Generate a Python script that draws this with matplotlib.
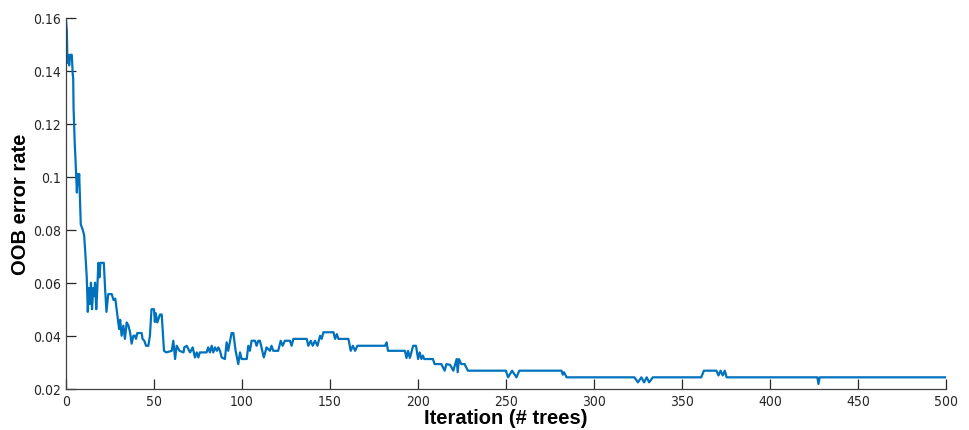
import numpy as np
import matplotlib
matplotlib.use('Agg')
import matplotlib.pyplot as plt

# OOB error vs number of trees (vertices)
iters = [0, 0.5, 0.8, 1.3, 1.8, 2.4, 3.3, 3.8, 4.1, 4.3, 5.0, 5.3, 5.8, 6.2, 6.6, 7.0, 7.5,
         8.0, 8.4, 9.5, 10.3, 11.0, 11.8, 12.4, 13.0, 13.6, 14.2, 14.8, 15.5, 16.0, 16.5,
         17.2, 17.8, 18.4, 19.0, 19.6, 21.5, 22.2, 23.0, 24.0, 26.0, 27.0, 28.0, 29.5,
         30.2, 30.8, 31.6, 32.6, 33.5, 34.5, 35.5, 36.4, 37.3, 38.3, 39.2, 39.8, 40.5,
         43.0, 43.5, 44.5, 45.5, 46.8, 47.7, 48.6, 50.0, 50.5, 51.0, 51.9, 53.4, 54.4,
         55.7, 57.0, 60.1, 61.0, 62.0, 62.9, 64.5, 66.8, 67.2, 68.6, 70.5, 72.0, 73.3,
         74.3, 75.2, 76.1, 79.9, 80.8, 81.8, 82.8, 83.7, 84.7, 85.7, 86.6, 87.5, 88.5,
         90.3, 91.3, 92.2, 94.1, 95.1, 96.4, 97.9, 98.9, 99.8, 102.7, 103.6, 104.5,
         105.5, 107.4, 108.3, 109.3, 110.2, 111.1, 112.4, 114.0, 115.9, 116.8, 117.8,
         120.6, 122.0, 123.1, 124.4, 127.3, 128.2, 129.2, 136.8, 137.7, 139.1, 140.2,
         141.5, 142.9, 144.4, 145.3, 146.3, 152.0, 152.9, 153.9, 154.8, 160.5, 161.8,
         163.0, 164.3, 165.6, 181.3, 182.2, 183.0, 192.6, 193.5, 194.4, 195.4, 197.3,
         198.9, 200.1, 201.0, 202.0, 202.8, 203.6, 208.5, 209.5, 213.3, 215.2, 216.2,
         218.3, 220.1, 222.0, 222.6, 223.3, 224.6, 226.5, 228.4, 250.0, 251.2, 253.5,
         256.0, 257.6, 281.6, 282.3, 283.0, 284.5, 323.0, 325.0, 327.0, 328.5, 330.0,
         331.4, 333.5, 361.0, 362.5, 369.6, 370.8, 372.0, 373.2, 374.4, 375.4, 427.0,
         427.6, 428.3, 500]
oob_err = [0.159, 0.155, 0.143, 0.146, 0.142, 0.146, 0.146, 0.139, 0.137, 0.126, 0.112,
           0.108, 0.100, 0.094, 0.101, 0.097, 0.101, 0.090, 0.082, 0.080, 0.078, 0.071,
           0.062, 0.049, 0.058, 0.052, 0.060, 0.050, 0.058, 0.055, 0.060, 0.050, 0.058,
           0.0675, 0.062, 0.0675, 0.0675, 0.058, 0.049, 0.0557, 0.0557, 0.0535, 0.054,
           0.046, 0.0425, 0.046, 0.040, 0.0438, 0.0388, 0.045, 0.0438, 0.0413, 0.037,
           0.040, 0.040, 0.0388, 0.041, 0.041, 0.0388, 0.0381, 0.0362, 0.0362, 0.040,
           0.050, 0.050, 0.0452, 0.0485, 0.045, 0.048, 0.048, 0.0343, 0.0337, 0.0343,
           0.0381, 0.0312, 0.0362, 0.0343, 0.0337, 0.0356, 0.0362, 0.0337, 0.0356, 0.0318,
           0.0337, 0.0318, 0.0337, 0.0337, 0.0356, 0.0337, 0.0362, 0.0337, 0.0356, 0.0343,
           0.0356, 0.0343, 0.0318, 0.0312, 0.0375, 0.0343, 0.041, 0.041, 0.0343, 0.0293,
           0.0337, 0.0312, 0.0312, 0.0362, 0.0343, 0.0381, 0.0381, 0.0362, 0.0381, 0.0381,
           0.0356, 0.0318, 0.0356, 0.0343, 0.0362, 0.0343, 0.0343, 0.0381, 0.0362, 0.0381,
           0.0381, 0.0362, 0.0388, 0.0388, 0.0362, 0.0381, 0.0362, 0.0381, 0.0362, 0.040,
           0.0388, 0.0413, 0.0413, 0.0388, 0.0406, 0.0388, 0.0388, 0.0343, 0.0362, 0.0343,
           0.0362, 0.0362, 0.0375, 0.0343, 0.0343, 0.0316, 0.0343, 0.0316, 0.0362, 0.0362,
           0.0312, 0.0337, 0.0312, 0.0325, 0.0312, 0.0312, 0.0293, 0.0293, 0.0268, 0.0293,
           0.029, 0.0268, 0.0312, 0.0262, 0.0312, 0.0293, 0.0293, 0.0268, 0.0268, 0.0243,
           0.0268, 0.0243, 0.0268, 0.0268, 0.0253, 0.0262, 0.0243, 0.0243, 0.0224, 0.0243,
           0.0224, 0.0243, 0.0224, 0.0243, 0.0243, 0.0268, 0.0268, 0.0250, 0.0268, 0.0250,
           0.0268, 0.0243, 0.0243, 0.0218, 0.0243, 0.0243]

xticks = [0, 50, 100, 150, 200, 250, 300, 350, 400, 450, 500]
yticks = [0.02, 0.04, 0.06, 0.08, 0.1, 0.12, 0.14, 0.16]
ytick_labels = ['0.02', '0.04', '0.06', '0.08', '0.1', '0.12', '0.14', '0.16']

label_font = ['Liberation Sans', 'DejaVu Sans']

fig = plt.figure(figsize=(9.69, 4.31), dpi=100)
ax = fig.add_axes([0.0681, 0.0958, 0.908, 0.8608])

ax.plot(iters, oob_err, color=(0, 0.447, 0.741), linewidth=1.6)

ax.set_xlim(0, 500)
ax.set_ylim(0.02, 0.16)
ax.set_xticks(xticks)
ax.set_yticks(yticks)
ax.set_yticklabels(ytick_labels)

for s in ['top', 'right']:
    ax.spines[s].set_visible(False)
for s in ['left', 'bottom']:
    ax.spines[s].set_color('#404040')
    ax.spines[s].set_linewidth(0.9)

ax.tick_params(direction='in', length=7, width=0.9, colors='#262626', labelsize=10)
for lab in ax.get_xticklabels() + ax.get_yticklabels():
    lab.set_family(['DejaVu Sans'])
    lab.set_stretch('condensed')

ax.set_xlabel('Iteration (# trees)', fontsize=14.5, fontweight='bold', family=label_font, labelpad=0)
ax.set_ylabel('OOB error rate', fontsize=14.5, fontweight='bold', family=label_font, labelpad=2)

fig.savefig('out.png', dpi=100)
